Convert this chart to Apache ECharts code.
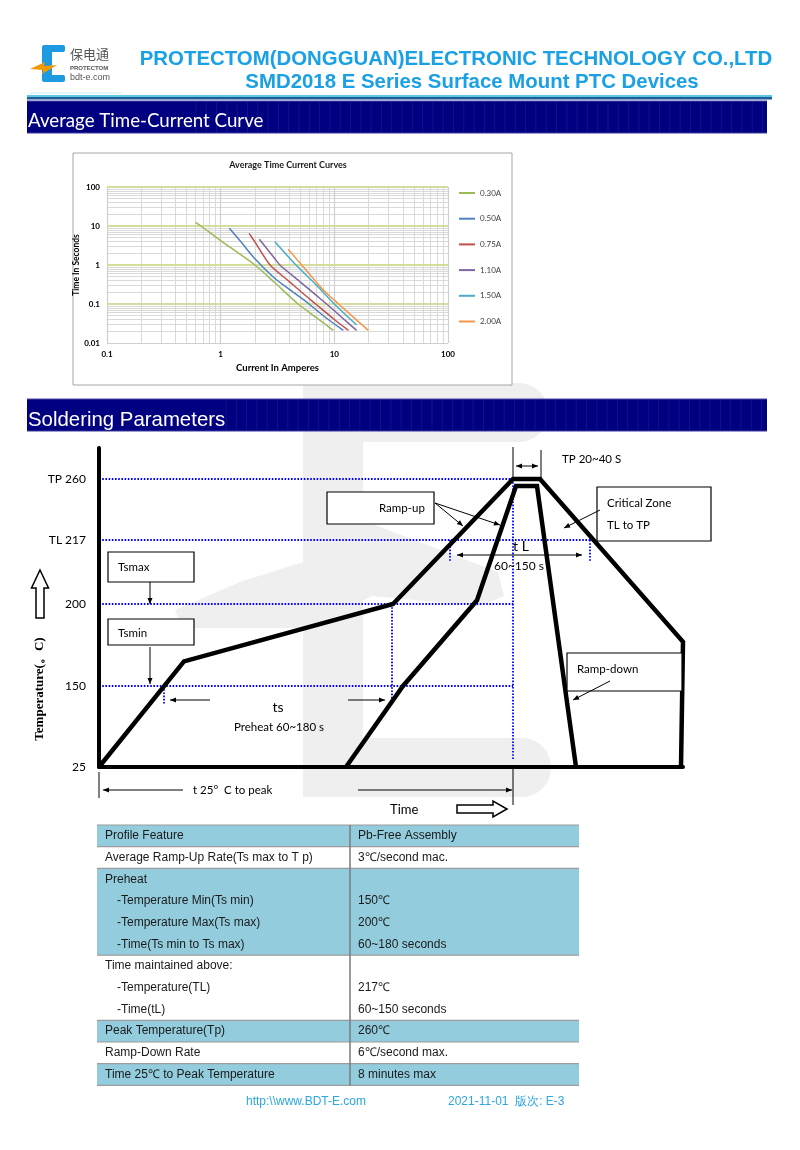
<!DOCTYPE html>
<html><head><meta charset="utf-8">
<script src="https://cdn.jsdelivr.net/npm/echarts@6/dist/echarts.min.js"></script>
<style>html,body{margin:0;padding:0;background:#fff}#c{width:800px;height:1150px}</style>
</head><body><div id="c"></div>
<script>
// ================= DATA =================
// Average Time-Current curves (current in A, time in s)
const curveNames = ['0.30A','0.50A','0.75A','1.10A','1.50A','2.00A'];
const current030 = [0.6, 0.67, 1, 2, 3, 4.8, 7, 9.8];
const time030    = [12.4, 10, 4.2, 1.0, 0.35, 0.1, 0.044, 0.021];
const current050 = [1.19, 1.5, 2, 3, 4, 6, 8, 12];
const time050    = [8.7, 4.0, 1.45, 0.45, 0.24, 0.1, 0.05, 0.021];
const current075 = [1.78, 2, 2.72, 4, 5, 6.85, 10, 13.3];
const time075    = [6.5, 3.9, 1.0, 0.38, 0.215, 0.1, 0.04, 0.021];
const current110 = [2.19, 3, 3.32, 5, 8.55, 12, 15.7];
const time110    = [4.56, 1.45, 1.0, 0.37, 0.1, 0.042, 0.021];
const current150 = [3.0, 4.6, 7, 10, 15.7];
const time150    = [3.96, 1.0, 0.3, 0.1, 0.029];
const current200 = [3.93, 5.26, 8, 10.9, 19.9];
const time200    = [2.52, 0.94, 0.23, 0.1, 0.021];
const xMajorTicks = [0.1, 1, 10, 100];
const yMajorTicks = [0.01, 0.1, 1, 10, 100];
const xMinorTicks = [0.2,0.3,0.4,0.5,0.6,0.7,0.8,0.9,2,3,4,5,6,7,8,9,20,30,40,50,60,70,80,90];
const yMinorTicks = [0.02,0.03,0.04,0.05,0.06,0.07,0.08,0.09,0.2,0.3,0.4,0.5,0.6,0.7,0.8,0.9,2,3,4,5,6,7,8,9,20,30,40,50,60,70,80,90];

// Soldering profile (schematic time units, temperature in C)
const tempLevels = [25, 150, 200, 217, 260];
const tempLevelLabels = ['25', '150', '200', 'TL 217', 'TP 260'];
const outerTime = [0, 85, 294, 414, 441, 584, 582];
const outerTemp = [25, 165, 200, 260, 260, 177, 25];
const innerTime = [247, 304, 378, 417, 438, 477];
const innerTemp = [25, 150, 201, 255, 255, 25];
const refTime = [[0,414],[0,491],[0,414],[0,414],[414,414],[293,293],[65,65],[351,351],[491,491]];
const refTemp = [[260,260],[217,217],[200,200],[150,150],[260,36],[200,128],[150,122],[217,211],[217,211]];

// Table
const tableLeft = ['Profile Feature','Average Ramp-Up Rate(Ts max to T p)','Preheat','-Temperature Min(Ts min)','-Temperature Max(Ts max)','-Time(Ts min to Ts max)','Time maintained above:','-Temperature(TL)','-Time(tL)','Peak Temperature(Tp)','Ramp-Down Rate','Time 25\u2103 to Peak Temperature'];
const tableRight = ['Pb-Free Assembly','3\u2103/second mac.','','150\u2103','200\u2103','60~180 seconds','','217\u2103','60~150 seconds','260\u2103','6\u2103/second max.','8 minutes max'];
const tableIndent = [0,0,0,1,1,1,0,1,1,0,0,0];

// ================= LAYOUT =================
const levelPos = [0, 81, 163, 227, 288];   // schematic vertical spacing of the temperature levels
function toPos(t){
  for (let i = 0; i < tempLevels.length - 1; i++) {
    if (t <= tempLevels[i+1]) {
      return levelPos[i] + (t - tempLevels[i]) / (tempLevels[i+1] - tempLevels[i]) * (levelPos[i+1] - levelPos[i]);
    }
  }
  return levelPos[levelPos.length-1];
}
const curveColors = ['#9bbb59','#4f81bd','#c0504d','#8064a2','#4bacc6','#f79646'];
const curveX = [current030,current050,current075,current110,current150,current200];
const curveY = [time030,time050,time075,time110,time150,time200];

const chart = echarts.init(document.getElementById('c'), null, {renderer:'canvas', width:800, height:1150});

// ---------- graphic helpers ----------
const g = [];
function R(x,y,w,h,fill,opt){ g.push({type:'rect', shape:{x:x,y:y,width:w,height:h,r:(opt&&opt.r)||0}, style:{fill:fill, stroke:(opt&&opt.stroke)||null, lineWidth:(opt&&opt.lw)||0}, z:(opt&&opt.z)!=null?opt.z:5, silent:true}); }
function T(x,y,text,font,fill,align,opt){ g.push({type:'text', x:x, y:y, rotation:(opt&&opt.rot)||0, style:{text:text, font:font, fill:fill||'#000', align:align||'left', verticalAlign:'middle', textAlign:align||'left', textVerticalAlign:'middle'}, z:(opt&&opt.z)!=null?opt.z:10, silent:true}); }
function L(x1,y1,x2,y2,stroke,lw,z){ g.push({type:'line', shape:{x1:x1,y1:y1,x2:x2,y2:y2}, style:{stroke:stroke, lineWidth:lw}, z:z!=null?z:10, silent:true}); }
function P(points,fill,stroke,lw,z){ g.push({type:'polygon', shape:{points:points}, style:{fill:fill, stroke:stroke||null, lineWidth:lw||0}, z:z!=null?z:10, silent:true}); }
function head(tx,ty,fx,fy){
  const a = Math.atan2(ty-fy, tx-fx), len = 6, w = 2.5;
  const bx = tx - len*Math.cos(a), by = ty - len*Math.sin(a);
  const px = -Math.sin(a)*w, py = Math.cos(a)*w;
  P([[tx,ty],[bx+px,by+py],[bx-px,by-py]], '#000');
}
function arrow(x1,y1,x2,y2,both){ L(x1,y1,x2,y2,'#000',1); head(x2,y2,x1,y1); if(both) head(x1,y1,x2,y2); }
function box(x,y,w,h){ R(x,y,w,h,'#ffffff',{stroke:'#000',lw:1.2,z:9}); }

// ---------- watermark (light gray "E") ----------
const wm = '#efefef';
R(303,383,245,59,wm,{r:[0,29,29,0],z:0});
R(303,383,60,414,wm,{r:[4,0,0,4],z:0});
R(303,738,248,59,wm,{r:[0,29,29,0],z:0});
P([[175,610],[240,582],[303,562],[330,522],[362,520],[498,572],[504,596],[480,606],[372,596],[340,612],[303,628],[182,628]], wm, null, 0, 0);

// ---------- header ----------
const blue = '#1aa0e4';
R(27,95,745,2,'#5cc8e2',{z:5});
R(27,97,745,2.5,'#1f5c9c',{z:5});
// logo
R(42,45,23,7,'#1e9ae0',{r:[3,2,2,0],z:5});
R(42,45,10,37,'#1e9ae0',{r:[3,0,0,3],z:5});
R(42,75,23,7,'#1e9ae0',{r:[0,2,2,3],z:5});
P([[30,69],[45,62],[44,66],[57,65],[42,74],[43,70]], '#f39800', null, 0, 6);
T(70,54,'保电通','13px "Noto Sans CJK SC"','#555','left');
T(70,68,'PROTECTOM','bold 6px "Liberation Sans"','#555','left');
T(70,78,'bdt-e.com','9px "Liberation Sans"','#555','left');
L(30,93,122,93,'#c8ecf7',1,5);
T(456,59,'PROTECTOM(DONGGUAN)ELECTRONIC TECHNOLOGY CO.,LTD','bold 20.4px "Liberation Sans"',blue,'center');
T(472,82,'SMD2018 E Series Surface Mount PTC Devices','bold 20.4px "Liberation Sans"',blue,'center');

// section bands
function band(y, stripeFrom){
  R(27,y,740,32,'#000080',{z:5});
  for (let x = stripeFrom; x < 765; x += 10.3) L(x,y+1,x,y+31,'#12128c',1,6);
  L(27,y,767,y,'#4a4aa8',1,6);
  L(27,y+32,767,y+32,'#3a3aa0',1,6);
}
band(101,196);
T(28,121,'Average Time-Current Curve','18.7px Lato','#ffffff','left');
band(399,226);
T(28,420,'Soldering Parameters','20.4px "Liberation Sans"','#ffffff','left');

// ---------- chart 1 frame ----------
R(73,153,439,232,'#ffffff',{stroke:'#a6a6a6',lw:1,z:0.5});
T(288,165,'Average Time Current Curves','bold 9px Lato','#1a1a1a','center');

// ---------- soldering annotations ----------
T(40,689,'Temperature(。C)','bold 13px "Liberation Serif"','#000','center',{rot:Math.PI/2});
P([[40,570],[48.5,588],[44,588],[44,618],[36,618],[36,588],[31.5,588]], '#fff','#000',1.5,10);
P([[457,805],[493,805],[493,801],[507,809],[493,817],[493,813],[457,813]], '#fff','#000',1.5,10);
T(390,810,'Time','13px Lato','#000','left');

box(108,552,86,30); T(118,567,'Tsmax','11.5px Lato');
arrow(150,582,150,604);
box(108,619,86,26); T(118,633,'Tsmin','11.5px Lato');
arrow(150,647,150,684);
box(327,492,107,32); T(379,508,'Ramp-up','11.5px Lato');
arrow(435,503,463,526); arrow(435,503,500,525);
box(597,487,114,54); T(607,503,'Critical Zone','11.5px Lato'); T(607,525,'TL to TP','11.5px Lato');
arrow(600,510,564,528);
box(567,653,115,38); T(577,669,'Ramp-down','11.5px Lato');
arrow(610,681,573,700);
L(513,447,513,479,'#000',1); L(541,450,541,479,'#000',1);
arrow(516,466,538,466,true);
T(562,459,'TP 20~40 S','11.5px Lato');
arrow(457,555,582,555,true);
T(521,546,'t L','14px Lato','#000','center');
T(519,566,'60~150 s','12px Lato','#000','center');
arrow(210,700,170,700); arrow(348,700,385,700);
T(278,707,'ts','14px Lato','#000','center');
T(279,727,'Preheat 60~180 s','11.5px Lato','#000','center');
L(99,772,99,798,'#000',1); L(513,769,513,805,'#000',1);
arrow(183,790,103,790); arrow(358,790,512,790);
T(193,790,'t 25°  C to peak','11.5px Lato');

// ---------- table ----------
const rowH = 21.7, tTop = 825, tL = 97, tR = 579, tMid = 350;
const blueRow = '#93cddd';
R(tL,tTop,tR-tL,rowH,blueRow,{z:4});
R(tL,tTop+2*rowH,tR-tL,4*rowH,blueRow,{z:4});
R(tL,tTop+9*rowH,tR-tL,rowH,blueRow,{z:4});
R(tL,tTop+11*rowH,tR-tL,rowH,blueRow,{z:4});
[0,1,2,6,9,10,11,12].forEach(i => L(tL,tTop+i*rowH,tR,tTop+i*rowH,'#9c9c9c',1.2,5));
L(tMid,tTop,tMid,tTop+12*rowH,'#7a7a7a',1.5,5);
tableLeft.forEach((s,i) => {
  const y = tTop + (i+0.5)*rowH;
  T(tableIndent[i] ? 117 : 105, y, s, '12px "Liberation Sans"', '#1a1a1a');
  if (tableRight[i]) T(358, y, tableRight[i], '12px "Liberation Sans"', '#1a1a1a');
});
T(246,1102,'http:\\\\www.BDT-E.com','12px "Liberation Sans"','#2aa7e0','left');
T(448,1102,'2021-11-01  版次: E-3','12px "Liberation Sans"','#2aa7e0','left');

// ================= SERIES =================
const series = [];
series.push({type:'line', xAxisIndex:0, yAxisIndex:0, data:[], z:1, silent:true,
  markLine:{silent:true, z:1, symbol:['none','none'], label:{show:false}, animation:false,
    lineStyle:{color:'#d9d9d9', width:1, type:'solid'},
    data:[...xMinorTicks.map(v => ({xAxis:v})), ...yMinorTicks.map(v => ({yAxis:v}))]}});
series.push({type:'line', xAxisIndex:0, yAxisIndex:0, data:[], z:1, silent:true,
  markLine:{silent:true, z:1.5, symbol:['none','none'], label:{show:false}, animation:false,
    data:[...xMajorTicks.map(v => ({xAxis:v, lineStyle:{color:'#cfcfcf', width:1.2, type:'solid'}})),
          ...yMajorTicks.map((v,i) => ({yAxis:v, lineStyle:{color: i===0 ? '#cfcfcf' : '#d5dd9e', width: i===0 ? 1.2 : 1.8, type:'solid'}}))]}});
curveNames.forEach((n,i) => {
  series.push({name:n, type:'line', xAxisIndex:0, yAxisIndex:0, symbol:'none', smooth:0.25, z:3,
    lineStyle:{color:curveColors[i], width:1.5}, itemStyle:{color:curveColors[i]},
    data: curveX[i].map((c,j) => [c, curveY[i][j]])});
});
refTime.forEach((tt,i) => {
  series.push({type:'line', xAxisIndex:1, yAxisIndex:1, symbol:'none', z:2, silent:true,
    lineStyle:{color:'#0000ff', width:1.8, type:[1.6,1.6]},
    data:[[tt[0], toPos(refTemp[i][0])],[tt[1], toPos(refTemp[i][1])]]});
});
[[outerTime,outerTemp],[innerTime,innerTemp]].forEach(p => {
  series.push({type:'line', xAxisIndex:1, yAxisIndex:1, symbol:'none', z:3, silent:true,
    lineStyle:{color:'#000', width:4.5, join:'miter', cap:'butt'},
    data:p[0].map((t,j) => [t, toPos(p[1][j])])});
});

const fmtLog = v => String(+(+v).toPrecision(3));
const option = {
  animation:false,
  backgroundColor:'#ffffff',
  textStyle:{fontFamily:'Lato'},
  grid:[
    {left:107, top:187, width:341, height:156},
    {left:99, top:448, width:584, height:319}
  ],
  legend:{data:curveNames, orient:'vertical', left:459, top:188, itemWidth:16, itemHeight:2, icon:'rect',
    itemGap:15.7, padding:0, selectedMode:false,
    textStyle:{fontSize:8, color:'#404040', lineHeight:10, fontFamily:'Lato'}},
  xAxis:[
    {type:'log', logBase:10, gridIndex:0, min:0.1, max:100, z:2,
      axisLine:{show:false}, axisTick:{show:false}, splitLine:{show:false}, minorSplitLine:{show:false},
      axisLabel:{formatter:fmtLog, fontSize:8, fontWeight:'bold', color:'#000', margin:7, fontFamily:'Lato'},
      name:'Current In Amperes', nameLocation:'middle', nameGap:20,
      nameTextStyle:{fontSize:9.5, fontWeight:'bold', color:'#000', fontFamily:'Lato'}},
    {type:'value', gridIndex:1, min:0, max:584, z:4,
      axisLine:{show:true, onZero:false, lineStyle:{color:'#000', width:4}},
      axisTick:{show:false}, axisLabel:{show:false}, splitLine:{show:false}}
  ],
  yAxis:[
    {type:'log', logBase:10, gridIndex:0, min:0.01, max:100, z:2,
      axisLine:{show:false}, axisTick:{show:false}, splitLine:{show:false},
      axisLabel:{formatter:fmtLog, fontSize:8, fontWeight:'bold', color:'#000', margin:7, fontFamily:'Lato'},
      name:'Time In Seconds', nameLocation:'middle', nameGap:16, nameRotate:90,
      nameTextStyle:{fontSize:8.5, fontWeight:'bold', color:'#000', fontFamily:'Lato'}},
    {type:'value', gridIndex:1, min:0, max:319, z:4,
      axisLine:{show:true, onZero:false, lineStyle:{color:'#000', width:4}},
      axisTick:{show:false}, splitLine:{show:false},
      axisLabel:{customValues:levelPos, margin:13, fontSize:12, color:'#000', fontFamily:'Lato',
        formatter: v => { const i = levelPos.indexOf(Math.round(v)); return i >= 0 ? tempLevelLabels[i] : ''; }}}
  ],
  series: series,
  graphic: {elements: g}
};
chart.setOption(option);
</script></body></html>
